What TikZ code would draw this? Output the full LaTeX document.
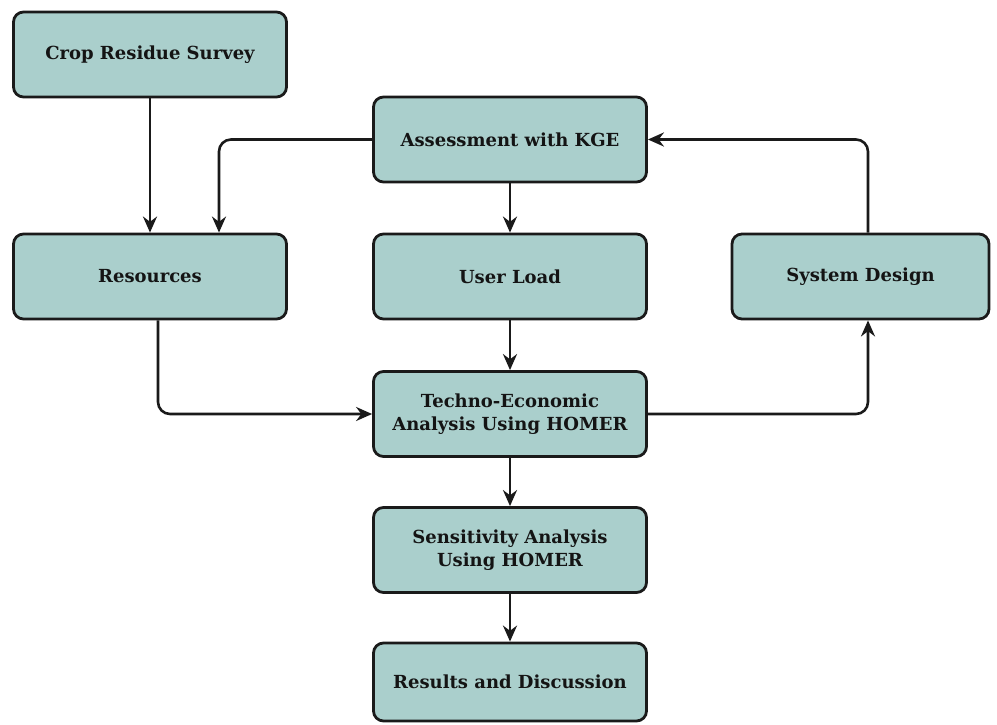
\documentclass[tikz,border=0pt]{standalone}
\usepackage{fontspec}
\setmainfont{DejaVu Serif}
\usetikzlibrary{arrows.meta}
\definecolor{boxfill}{HTML}{AACFCC}
\definecolor{edge}{HTML}{1A1A1A}
\tikzset{
  stepbox/.style={draw=edge, line width=2.8pt, fill=boxfill, rounded corners=10pt,
    minimum width=273pt, minimum height=85pt, inner sep=0pt, align=center,
    font=\fontsize{18}{23}\selectfont\bfseries, text=black!92},
  flow/.style={draw=edge, line width=2.6pt, rounded corners=12pt,
    -{Stealth[length=16pt,width=14pt]}}
}
\begin{document}
\begin{tikzpicture}[x=1pt,y=-1pt]
\useasboundingbox (0,0) rectangle (997,725);
\node[stepbox] (crop) at (150,54.5) {Crop Residue Survey};
\node[stepbox] (kge) at (510,139.5) {Assessment with KGE};
\node[stepbox] (res) at (150,276.5) {Resources};
\node[stepbox] (user) at (510,276.5) {User Load};
\node[stepbox, minimum width=257pt] (sys) at (860.5,276.5) {System Design};
\node[stepbox] (tea) at (510,414) {Techno-Economic\\Analysis Using HOMER};
\node[stepbox] (sens) at (510,550) {Sensitivity Analysis\\Using HOMER};
\node[stepbox, minimum height=78pt] (resd) at (510,682) {Results and Discussion};
\draw[flow] (crop.south) -- (res.north);
\draw[flow] (kge.west) -| ([xshift=69pt]res.north);
\draw[flow] (kge.south) -- (user.north);
\draw[flow] (user.south) -- (tea.north);
\draw[flow] ([xshift=8pt]res.south) |- (tea.west);
\draw[flow] (tea.east) -| ([xshift=7.5pt]sys.south);
\draw[flow] ([xshift=7.5pt]sys.north) |- (kge.east);
\draw[flow] (tea.south) -- (sens.north);
\draw[flow] (sens.south) -- (resd.north);
\end{tikzpicture}
\end{document}
